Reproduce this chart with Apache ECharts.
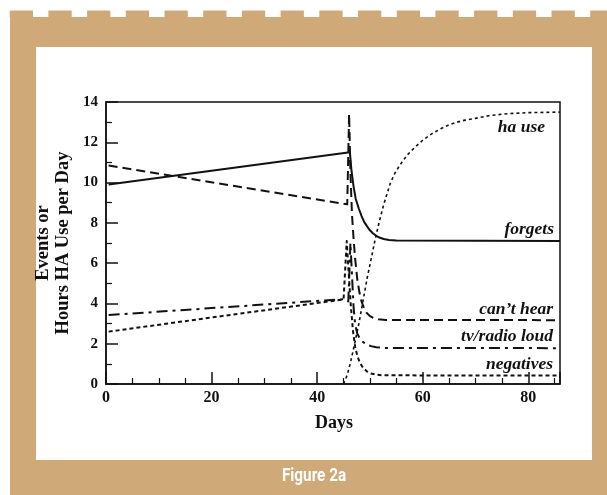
<!DOCTYPE html>
<html>
<head>
<meta charset="utf-8">
<script src="https://cdn.jsdelivr.net/npm/echarts@6/dist/echarts.min.js"></script>
<style>
  html, body { margin: 0; padding: 0; background: #fff; }
  #chart { width: 607px; height: 495px; }
</style>
</head>
<body>
<div id="chart"></div>
<script>
// Axis tick values
const xTicks = [0, 20, 40, 60, 80];
const yTicks = [0, 2, 4, 6, 8, 10, 12, 14];

// Series: [day, value] pairs
const forgets = [
  [0.5, 9.9], [46.2, 11.5], [46.5, 10.6], [46.9, 9.8], [47.3, 9.2], [47.9, 8.7],
  [48.4, 8.35], [48.9, 8.05], [49.4, 7.85], [49.9, 7.66], [50.5, 7.5], [51.1, 7.37],
  [51.8, 7.27], [52.6, 7.2], [53.6, 7.15], [55, 7.12], [86, 7.1]
];
const cantHear = [
  [0.5, 10.85], [45.7, 8.92], [46.05, 13.4], [46.3, 10.5], [46.6, 8.4], [46.9, 7.2],
  [47.2, 6.2], [47.6, 5.2], [48.0, 4.55], [48.4, 4.1], [48.9, 3.75], [49.4, 3.52],
  [50, 3.37], [50.7, 3.27], [51.6, 3.21], [53, 3.18], [86, 3.17]
];
const tvRadioLoud = [
  [0.5, 3.42], [45.4, 4.22], [45.9, 4.1], [46.3, 7.0], [46.6, 5.4], [46.9, 3.8],
  [47.2, 2.95], [47.6, 2.5], [48.1, 2.25], [48.7, 2.08], [49.4, 1.96], [50.2, 1.88],
  [51.2, 1.82], [53, 1.79], [86, 1.78]
];
const negatives = [
  [0.5, 2.6], [45.0, 4.2], [45.6, 7.1], [46.0, 5.4], [46.4, 3.8], [46.8, 2.6],
  [47.2, 1.85], [47.6, 1.4], [48.1, 1.05], [48.7, 0.8], [49.4, 0.63], [50.2, 0.52],
  [51.2, 0.46], [52.5, 0.43], [86, 0.42]
];
const haUse = [
  [45.0, 0], [45.7, 0.45], [46.3, 1.05], [47.1, 2.0], [47.9, 3.0], [48.7, 4.15],
  [49.5, 5.3], [50.3, 6.3], [51, 7.2], [51.8, 8.1], [52.6, 8.9], [53.3, 9.5],
  [53.9, 10.0], [54.7, 10.45], [55.5, 10.8], [56.3, 11.1], [57, 11.35], [58.5, 11.75],
  [60, 12.1], [61.7, 12.42], [63.4, 12.67], [65, 12.87], [66.5, 13.0], [68, 13.1],
  [69.6, 13.17], [72.5, 13.32], [76, 13.42], [80, 13.47], [86, 13.5]
];

const seriesNames = ['forgets', 'can’t hear', 'tv/radio loud', 'negatives', 'ha use'];

const SERIF = '"Liberation Serif", "DejaVu Serif", serif';
const INK = '#111';
const TAN = '#CFAA78';

const chart = echarts.init(document.getElementById('chart'), null, { renderer: 'canvas' });

// Frame: tan border with a notched top edge, white panel inside
const frame = [
  { type: 'rect', z: -20, shape: { x: 10, y: 17, width: 597, height: 478 }, style: { fill: TAN } },
  { type: 'rect', z: -19, shape: { x: 36, y: 47, width: 556, height: 413 }, style: { fill: '#fff' } }
];
for (let i = 0; i < 16; i++) {
  frame.push({ type: 'rect', z: -20, shape: { x: 9.7 + i * 38.7, y: 10.5, width: 23.3, height: 7 }, style: { fill: TAN } });
}

function tag(text, x, y) {
  return {
    type: 'text', z: 50, x: x, y: y,
    style: { text: text, fill: INK, font: 'italic bold 17.5px ' + SERIF, textAlign: 'right', textVerticalAlign: 'middle' }
  };
}

const texts = [
  tag('ha use', 545, 127),
  tag('forgets', 554, 229),
  tag('can’t hear', 553, 309),
  tag('tv/radio loud', 553, 336),
  tag('negatives', 553, 364),
  { type: 'text', z: 50, x: 334, y: 423,
    style: { text: 'Days', fill: INK, font: 'bold 18px ' + SERIF, textAlign: 'center', textVerticalAlign: 'middle' } },
  { type: 'text', z: 50, x: 43, y: 243, rotation: Math.PI / 2,
    style: { text: 'Events or', fill: INK, font: 'bold 18.5px ' + SERIF, textAlign: 'center', textVerticalAlign: 'middle' } },
  { type: 'text', z: 50, x: 63, y: 243, rotation: Math.PI / 2,
    style: { text: 'Hours HA Use per Day', fill: INK, font: 'bold 18.5px ' + SERIF, textAlign: 'center', textVerticalAlign: 'middle' } },
  { type: 'text', z: 50, x: 314, y: 476, scaleX: 0.85,
    style: { text: 'Figure 2a', fill: '#fff', font: 'bold 18px Roboto, sans-serif', textAlign: 'center', textVerticalAlign: 'middle' } }
];

function line(name, data, type, width) {
  return {
    name: name, type: 'line', data: data, symbol: 'none', smooth: false,
    lineStyle: { color: INK, width: width, type: type, join: 'round' },
    z: 5, animation: false
  };
}

chart.setOption({
  backgroundColor: '#fff',
  animation: false,
  grid: { left: 106, right: 47, top: 102, bottom: 111, show: true, borderColor: INK, borderWidth: 1.5, backgroundColor: 'transparent' },
  xAxis: {
    type: 'value', min: 0, max: 86, interval: 20,
    axisLine: { show: true, lineStyle: { color: INK, width: 1.5 } },
    axisTick: { show: true, inside: true, length: 12, lineStyle: { color: INK, width: 1.5 } },
    minorTick: { show: true, splitNumber: 4, length: 6, lineStyle: { color: INK, width: 1.2 } },
    splitLine: { show: false },
    axisLabel: {
      margin: 6, color: INK, fontFamily: SERIF, fontWeight: 'bold', fontSize: 16,
      formatter: v => (xTicks.indexOf(v) >= 0 ? String(v) : '')
    }
  },
  yAxis: {
    type: 'value', min: 0, max: 14, interval: 2,
    axisLine: { show: true, lineStyle: { color: INK, width: 1.5 } },
    axisTick: { show: true, inside: true, length: 12, lineStyle: { color: INK, width: 1.5 } },
    minorTick: { show: true, splitNumber: 2, length: 6, lineStyle: { color: INK, width: 1.2 } },
    splitLine: { show: false },
    axisLabel: {
      margin: 8, color: INK, fontFamily: SERIF, fontWeight: 'bold', fontSize: 15,
      formatter: v => (yTicks.indexOf(v) >= 0 ? String(v) : '')
    }
  },
  graphic: frame.concat(texts),
  series: [
    line(seriesNames[0], forgets, 'solid', 2),
    line(seriesNames[1], cantHear, [9, 5], 2),
    line(seriesNames[2], tvRadioLoud, [11, 5, 3, 5], 2),
    line(seriesNames[3], negatives, [4, 3], 2),
    line(seriesNames[4], haUse, [3, 3], 1.6)
  ]
});
</script>
</body>
</html>
